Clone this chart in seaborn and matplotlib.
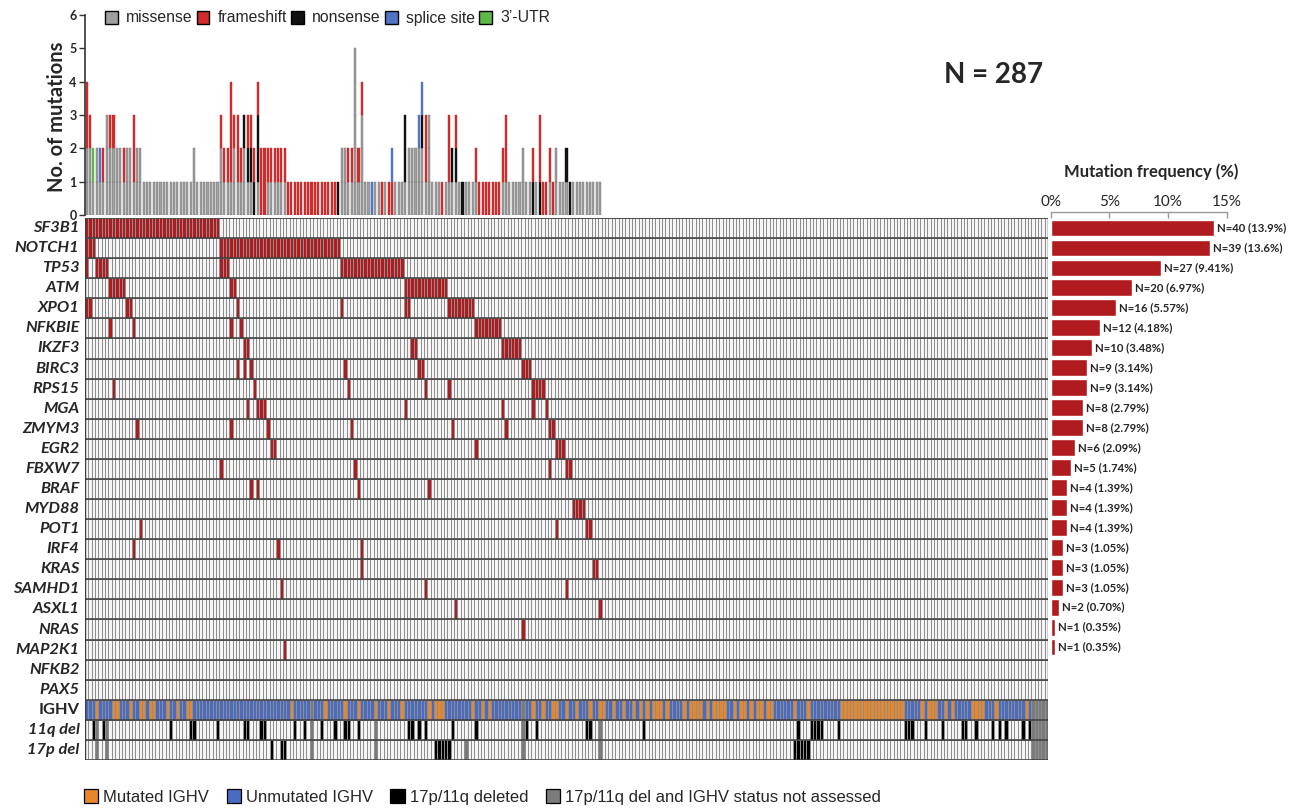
import numpy as np
import pandas as pd
import matplotlib
matplotlib.use("Agg")
import matplotlib.pyplot as plt
import seaborn as sns
from matplotlib.colors import ListedColormap
from matplotlib.patches import Patch

# ---------------------------------------------------------------- data
N_PATIENTS = 287

genes = ["SF3B1", "NOTCH1", "TP53", "ATM", "XPO1", "NFKBIE", "IKZF3", "BIRC3",
         "RPS15", "MGA", "ZMYM3", "EGR2", "FBXW7", "BRAF", "MYD88", "POT1",
         "IRF4", "KRAS", "SAMHD1", "ASXL1", "NRAS", "MAP2K1", "NFKB2", "PAX5"]
gene_n = [40, 39, 27, 20, 16, 12, 10, 9, 9, 8, 8, 6, 5, 4, 4, 4, 3, 3, 3, 2, 1, 1, 0, 0]

# mutated patient columns per gene (read from the oncoprint)
sf3b1_cols = [*range(0, 40)]
notch1_cols = [0, 1, 2, *range(40, 76)]
tp53_cols = [0, 3, 4, 5, 6, 40, 41, 42, *range(76, 95)]
atm_cols = [7, 8, 9, 10, 11, 43, 44, *range(95, 108)]
xpo1_cols = [0, 1, 12, 13, 45, 76, 95, 96, *range(108, 116)]
nfkbie_cols = [7, 14, 43, 46, *range(116, 124)]
ikzf3_cols = [47, 48, 97, 98, *range(124, 130)]
birc3_cols = [45, 47, 49, 77, 99, 100, 130, 131, 132]
rps15_cols = [8, 50, 78, 101, 108, 133, 134, 135, 136]
mga_cols = [48, 51, 52, 53, 95, 124, 133, 137]
zmym3_cols = [15, 43, 54, 79, 109, 125, 138, 139]
egr2_cols = [55, 56, 116, 140, 141, 142]
fbxw7_cols = [40, 80, 138, 143, 144]
braf_cols = [49, 51, 81, 102]
myd88_cols = [145, 146, 147, 148]
pot1_cols = [16, 140, 149, 150]
irf4_cols = [14, 57, 82]
kras_cols = [82, 151, 152]
samhd1_cols = [58, 101, 143]
asxl1_cols = [110, 153]
nras_cols = [130]
map2k1_cols = [59]
nfkb2_cols = []
pax5_cols = []

ighv_mutated = [3, 8, 9, 13, 16, 17, 19, 20, 24, 27, 30, 31, 61, 71, 77, 81, 86, 90, 94,
                102, 104, 105, 106, 115, 118, 120, 133, 136, 139, 140, 143, 146, 150,
                153, 154, 157, 160, 163, 165, 167, 169, 170, 171, 173, 178, 180, 181,
                182, 183, 185, 187, 188, 189, 190, 193, 195, 196, 198, 200, 201, 203,
                204, 211, 215, *range(225, 244), 249, 251, 252, 253, 256, 258, 264,
                265, 266, 267, 271, 280]
ighv_na = [67, 130, 282, 283, 284, 285, 286]
del11q = [2, 5, 25, 31, 32, 39, 47, 48, 52, 53, 62, 65, 70, 74, 77, 78, 81, 96, 97,
          99, 101, 109, 116, 131, 134, 149, 150, 166, 212, 216, 217, 218, 219, 224,
          244, 245, 246, 250, 255, 261, 262, 265, 270, 272, 274, 279, 281]
del11q_na = [3, 6, 67, 86, 130, 153, 282, 283, 284, 285, 286]
del17p = [55, 58, 59, 104, 105, 106, 107, 108, 211, 212, 213, 214, 215]
del17p_na = [3, 6, 67, 86, 113, 130, 153, 282, 283, 284, 285, 286]

# per-patient mutation stacks (bottom -> top): M missense, F frameshift,
# N nonsense, S splice site, U 3'-UTR
profile_a = ("MMFF MMF MU MM MS MF MMM MMF MMF MM MM MF MM MM MFF MM MM "
             "M M M M M M M M M M M M M M M MM M M M M M M M")
profile_b = ("MMF MF MF MFFF MMF MFF MF MMN MNF MNF NF MNNF FF FF MF MF MF MF MF MF "
             "F F F F F F F F F F F F F F F N MM MM MF MF")
profile_c = ("MMMMM MF MMMF M M S M M F M F FS M M M MNN MM MM MM MMS MMNS MFF MMM "
             "M M M F M MFF MN MNF M N M M M MF F F F")
profile_d = ("F F F F MF MFF M M M M MM M M NF M NFF F F MF F MM M M MN N "
             "M M M M M M M M M")
mutation_profile = (profile_a + " " + profile_b + " " + profile_c + " " + profile_d).split()

# ---------------------------------------------------------------- style
sns.set_theme(style="white")
plt.rcParams['font.family'] = ['Lato', 'DejaVu Sans']

W, H = 1300, 808
fig = plt.figure(figsize=(W / 100, H / 100), dpi=100)


def ax_px(x0, y0, x1, y1):
    return fig.add_axes([x0 / W, 1 - y1 / H, (x1 - x0) / W, (y1 - y0) / H])


RED = '#b01b1f'

# ---------------------------------------------------------------- oncoprint heatmap
gene_cols = [sf3b1_cols, notch1_cols, tp53_cols, atm_cols, xpo1_cols, nfkbie_cols,
             ikzf3_cols, birc3_cols, rps15_cols, mga_cols, zmym3_cols, egr2_cols,
             fbxw7_cols, braf_cols, myd88_cols, pot1_cols, irf4_cols, kras_cols,
             samhd1_cols, asxl1_cols, nras_cols, map2k1_cols, nfkb2_cols, pax5_cols]
row_labels = genes + ["IGHV", "11q del", "17p del"]
mat = np.zeros((len(row_labels), N_PATIENTS))
for i, cols in enumerate(gene_cols):
    mat[i, cols] = 1
mat[24, :] = 3
mat[24, ighv_mutated] = 2
mat[24, ighv_na] = 5
mat[25, del11q] = 4
mat[25, del11q_na] = 5
mat[26, del17p] = 4
mat[26, del17p_na] = 5
df = pd.DataFrame(mat, index=row_labels)

ax_hm = ax_px(85, 218, 1048, 760)
cmap = ListedColormap(['#f5f5f5', RED, '#e8862a', '#4a6bbf', '#000000', '#7b7b7b'])
sns.heatmap(df, ax=ax_hm, cmap=cmap, vmin=-0.5, vmax=5.5, cbar=False,
            linewidths=0.4, linecolor='#8e8e8e', xticklabels=False, yticklabels=True)
ax_hm.hlines(np.arange(len(row_labels) + 1), 0, N_PATIENTS, colors='#3c3c3c', linewidth=1.1)
ax_hm.vlines([0, N_PATIENTS], 0, len(row_labels), colors='#3c3c3c', linewidth=1.0)
ax_hm.set_xlabel('')
ax_hm.set_ylabel('')
ax_hm.tick_params(axis='y', length=0, pad=4)
for t in ax_hm.get_yticklabels():
    t.set_rotation(0)
    t.set_fontweight('bold')
    t.set_fontsize(11.8)
    t.set_fontstyle('normal' if t.get_text() == 'IGHV' else 'italic')

# ---------------------------------------------------------------- top stacked bars
ax_top = ax_px(85, 15, 1048, 215)
type_colors = {'M': '#a0a0a0', 'F': '#d12a2a', 'N': '#111111', 'S': '#4f74c8', 'U': '#5cb947'}
max_len = max(len(p) for p in mutation_profile)
for level in range(max_len):
    for code, color in type_colors.items():
        xs = [i + 0.5 for i, p in enumerate(mutation_profile) if len(p) > level and p[level] == code]
        if xs:
            ax_top.bar(xs, [1] * len(xs), bottom=level, width=0.62, color=color,
                       edgecolor='#6e6e6e' if code == 'M' else color, linewidth=0.3)
ax_top.set_xlim(0, N_PATIENTS)
ax_top.set_ylim(0, 6)
for s in ['top', 'right', 'bottom']:
    ax_top.spines[s].set_visible(False)
ax_top.spines['left'].set_color('#333333')
ax_top.spines['left'].set_linewidth(1.2)
ax_top.set_xticks([])
ax_top.set_yticks(range(7))
ax_top.set_yticklabels([str(v) for v in range(7)], fontweight='bold', fontsize=9)
ax_top.tick_params(axis='y', direction='out', length=4, width=1, color='#333333', pad=2, left=True)

fig.text(57 / W, 1 - 117 / H, "No. of mutations", rotation=90, ha='center', va='center',
         fontsize=14.5, fontweight='bold')

leg_labels = ["missense", "frameshift", "nonsense", "splice site", "3\u2019-UTR"]
leg_handles = [Patch(facecolor=c, edgecolor='black', linewidth=1.0)
               for c in ['#a0a0a0', '#d12a2a', '#111111', '#4f74c8', '#5cb947']]
fig.legend(leg_handles, leg_labels, loc='center left', bbox_to_anchor=(105 / W, 1 - 18 / H),
           ncol=5, frameon=False, handlelength=0.8, handleheight=0.9, handletextpad=0.55,
           columnspacing=0.25, borderaxespad=0, borderpad=0,
           prop={'family': ['Liberation Sans', 'DejaVu Sans'], 'size': 11.3})

fig.text(994 / W, 1 - 75 / H, "N = 287", ha='center', va='center', fontsize=20, fontweight='bold')

# ---------------------------------------------------------------- right frequency bars
ax_bar = ax_px(1050.7, 218, 1226.7, 697)
freq = [n / N_PATIENTS * 100 for n in gene_n]
sns.barplot(x=freq, y=genes, orient='h', color=RED, saturation=1, width=0.84, ax=ax_bar)
ax_bar.set_xlim(0, 15)
ax_bar.set_ylim(len(genes) - 0.5, -0.5)
for i, (n, f) in enumerate(zip(gene_n, freq)):
    if n > 0:
        pct = f"{f:.1f}" if f >= 10 else f"{f:.2f}"
        ax_bar.text(f + 0.25, i, f"N={n} ({pct}%)", va='center', ha='left',
                    fontsize=8.2, fontweight='bold', clip_on=False)
ax_bar.xaxis.tick_top()
ax_bar.set_xticks([0, 5, 10, 15])
ax_bar.set_xticklabels(['0%', '5%', '10%', '15%'], fontweight='bold', fontsize=9.5)
ax_bar.tick_params(axis='x', direction='in', length=4, width=1, color='#999999', pad=2, top=True)
ax_bar.set_yticks([])
ax_bar.set_xlabel('')
ax_bar.set_ylabel('')
for s in ['left', 'right', 'bottom']:
    ax_bar.spines[s].set_visible(False)
ax_bar.spines['top'].set_position(('outward', 4.5))
ax_bar.spines['top'].set_color('#999999')
ax_bar.spines['top'].set_linewidth(1)

fig.text(1151 / W, 1 - 172 / H, "Mutation frequency (%)", ha='center', va='center',
         fontsize=12, fontweight='bold')

# ---------------------------------------------------------------- bottom legend
bl_labels = ["Mutated IGHV", "Unmutated IGHV", "17p/11q deleted",
             "17p/11q del and IGHV status not assessed"]
bl_handles = [Patch(facecolor=c, edgecolor='black', linewidth=0.9)
              for c in ['#e8862a', '#4a6bbf', '#000000', '#7b7b7b']]
fig.legend(bl_handles, bl_labels, loc='center left', bbox_to_anchor=(84 / W, 1 - 797 / H),
           ncol=4, frameon=False, handlelength=0.85, handleheight=0.85, handletextpad=0.3,
           columnspacing=1.05, borderaxespad=0, borderpad=0,
           prop={'family': ['Liberation Sans', 'DejaVu Sans'], 'size': 12})

fig.savefig("out.png", dpi=100)
